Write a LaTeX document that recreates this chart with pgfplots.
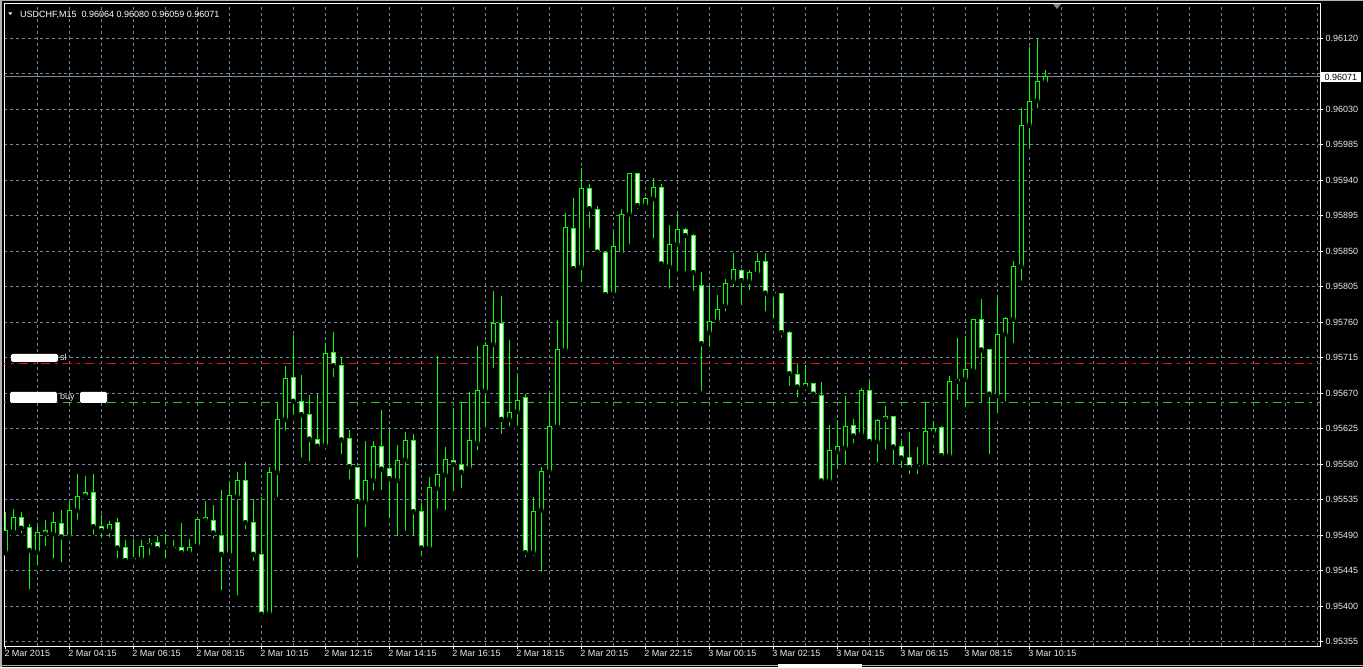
\documentclass[border=0pt]{standalone}
\usepackage{pgfplots}
\pgfplotsset{compat=1.18}
\usepackage{pgfplotstable}
\usepackage{fontspec}
\setmainfont{Liberation Sans}
\definecolor{cgreen}{RGB}{0,255,0}
\definecolor{gridc}{RGB}{119,136,153}
\definecolor{slred}{RGB}{230,20,20}
\definecolor{buygreen}{RGB}{50,190,50}
\definecolor{lblc}{RGB}{235,235,235}

\pgfplotstableread{
i O H L C
0 0.95469 0.95519 0.95467 0.95496
1 0.95495 0.95523 0.95490 0.95512
4 0.95469 0.95502 0.95449 0.95494
6 0.95492 0.95519 0.95458 0.95506
8 0.95488 0.95532 0.95487 0.95522
9 0.95522 0.95568 0.95507 0.95539
13 0.95496 0.95508 0.95485 0.95504
17 0.95460 0.95484 0.95458 0.95476
18 0.95477 0.95487 0.95462 0.95480
20 0.95475 0.95492 0.95458 0.95476
21 0.95473 0.95484 0.95468 0.95474
23 0.95468 0.95485 0.95464 0.95475
24 0.95477 0.95511 0.95473 0.95510
28 0.95466 0.95558 0.95466 0.95540
29 0.95539 0.95570 0.95411 0.95559
33 0.95391 0.95577 0.95386 0.95570
34 0.95570 0.95659 0.95536 0.95637
35 0.95637 0.95704 0.95620 0.95689
40 0.95604 0.95734 0.95596 0.95721
45 0.95532 0.95610 0.95498 0.95560
46 0.95560 0.95610 0.95544 0.95602
49 0.95560 0.95604 0.95486 0.95585
50 0.95586 0.95621 0.95493 0.95610
53 0.95474 0.95564 0.95472 0.95550
54 0.95550 0.95717 0.95521 0.95567
55 0.95567 0.95602 0.95519 0.95586
58 0.95575 0.95672 0.95572 0.95610
59 0.95607 0.95730 0.95595 0.95673
60 0.95673 0.95735 0.95624 0.95730
61 0.95732 0.95800 0.95699 0.95758
63 0.95637 0.95738 0.95626 0.95646
64 0.95647 0.95692 0.95626 0.95661
66 0.95468 0.95538 0.95461 0.95520
67 0.95522 0.95577 0.95441 0.95571
68 0.95571 0.95669 0.95569 0.95628
69 0.95628 0.95763 0.95628 0.95725
70 0.95725 0.95898 0.95724 0.95880
72 0.95830 0.95956 0.95808 0.95929
76 0.95796 0.95874 0.95796 0.95856
77 0.95847 0.95903 0.95847 0.95897
78 0.95897 0.95949 0.95856 0.95949
80 0.95908 0.95919 0.95905 0.95917
81 0.95917 0.95943 0.95864 0.95931
83 0.95831 0.95883 0.95800 0.95859
84 0.95859 0.95897 0.95822 0.95878
88 0.95747 0.95807 0.95726 0.95761
89 0.95761 0.95795 0.95761 0.95776
90 0.95781 0.95815 0.95771 0.95809
91 0.95812 0.95848 0.95802 0.95827
93 0.95812 0.95826 0.95798 0.95823
94 0.95822 0.95848 0.95821 0.95837
100 0.95678 0.95706 0.95670 0.95683
103 0.95559 0.95630 0.95556 0.95597
104 0.95596 0.95636 0.95571 0.95602
105 0.95601 0.95666 0.95577 0.95628
107 0.95618 0.95677 0.95615 0.95673
109 0.95609 0.95637 0.95580 0.95636
110 0.95637 0.95654 0.95596 0.95641
114 0.95577 0.95602 0.95565 0.95578
115 0.95578 0.95659 0.95578 0.95621
116 0.95620 0.95635 0.95611 0.95626
118 0.95591 0.95692 0.95585 0.95685
119 0.95685 0.95740 0.95659 0.95688
120 0.95688 0.95743 0.95650 0.95700
121 0.95699 0.95764 0.95699 0.95763
124 0.95667 0.95792 0.95642 0.95744
125 0.95745 0.95767 0.95657 0.95765
126 0.95764 0.95838 0.95731 0.95831
127 0.95831 0.96031 0.95810 0.96010
128 0.96010 0.96109 0.95977 0.96040
129 0.96041 0.96119 0.96029 0.96065
130 0.96064 0.96080 0.96059 0.96071
}\bull

\pgfplotstableread{
i O H L C
2 0.95512 0.95520 0.95490 0.95499
3 0.95500 0.95504 0.95419 0.95471
5 0.95496 0.95510 0.95474 0.95492
7 0.95505 0.95522 0.95453 0.95488
10 0.95544 0.95565 0.95537 0.95540
11 0.95544 0.95568 0.95488 0.95501
12 0.95501 0.95516 0.95484 0.95496
14 0.95506 0.95512 0.95458 0.95474
15 0.95474 0.95484 0.95458 0.95458
16 0.95460 0.95485 0.95458 0.95459
19 0.95481 0.95489 0.95473 0.95473
22 0.95474 0.95506 0.95464 0.95468
25 0.95512 0.95533 0.95507 0.95509
26 0.95509 0.95528 0.95483 0.95493
27 0.95490 0.95547 0.95418 0.95466
30 0.95559 0.95583 0.95495 0.95506
31 0.95506 0.95536 0.95455 0.95466
32 0.95466 0.95539 0.95383 0.95390
36 0.95690 0.95744 0.95640 0.95660
37 0.95660 0.95693 0.95586 0.95643
38 0.95643 0.95668 0.95581 0.95612
39 0.95612 0.95669 0.95600 0.95603
41 0.95722 0.95748 0.95688 0.95705
42 0.95705 0.95716 0.95590 0.95611
43 0.95613 0.95624 0.95558 0.95577
44 0.95576 0.95577 0.95459 0.95533
47 0.95602 0.95649 0.95545 0.95574
48 0.95575 0.95624 0.95509 0.95562
51 0.95610 0.95618 0.95486 0.95520
52 0.95520 0.95531 0.95461 0.95474
56 0.95585 0.95652 0.95543 0.95580
57 0.95580 0.95659 0.95547 0.95570
62 0.95758 0.95793 0.95616 0.95637
65 0.95665 0.95669 0.95460 0.95468
71 0.95879 0.95918 0.95823 0.95828
73 0.95929 0.95935 0.95877 0.95904
74 0.95903 0.95907 0.95849 0.95849
75 0.95849 0.95851 0.95795 0.95795
79 0.95949 0.95949 0.95901 0.95908
82 0.95931 0.95935 0.95827 0.95834
85 0.95877 0.95880 0.95822 0.95870
86 0.95870 0.95872 0.95797 0.95823
87 0.95807 0.95824 0.95670 0.95733
92 0.95826 0.95827 0.95779 0.95813
95 0.95837 0.95848 0.95771 0.95797
96 0.95798 0.95799 0.95762 0.95796
97 0.95796 0.95797 0.95738 0.95747
98 0.95747 0.95749 0.95677 0.95695
99 0.95694 0.95707 0.95662 0.95678
101 0.95683 0.95683 0.95662 0.95669
102 0.95667 0.95684 0.95556 0.95559
106 0.95629 0.95637 0.95604 0.95616
108 0.95673 0.95685 0.95603 0.95609
111 0.95640 0.95640 0.95577 0.95602
112 0.95602 0.95609 0.95573 0.95588
113 0.95589 0.95621 0.95565 0.95576
117 0.95627 0.95629 0.95585 0.95591
122 0.95764 0.95790 0.95655 0.95725
123 0.95726 0.95726 0.95590 0.95669
}\bear

\pgfplotsset{
  bar/.style 2 args={only marks, mark=none, forget plot,
    error bars/.cd, y dir=plus, y explicit, error mark=none,
    error bar style={draw=#1, line width=#2, line cap=butt}},
}

\begin{document}
\begin{tikzpicture}
\fill[black] (0pt,0pt) rectangle (1363pt,667pt);
\fill[gray!60] (0pt,0pt) rectangle (2pt,667pt);
\fill[gray!60] (0pt,666pt) rectangle (1363pt,667pt);
\fill[gray!60] (0pt,1pt) rectangle (1363pt,2pt);
\fill[white] (778pt,0pt) rectangle (862pt,3pt);
\begin{axis}[
  at={(4pt,21pt)}, anchor=south west,
  scale only axis, width=1316.5pt, height=642.5pt,
  xmin=-0.1625, xmax=164.4, ymin=0.953497, ymax=0.961641,
  scaled ticks=false,
  axis line style={draw=white, line width=1pt},
  tick align=outside,
  xtick pos=bottom, ytick pos=right, yticklabel pos=right,
  major tick length=3pt, minor tick length=0pt,
  tick style={draw=white, line width=1pt},
  xtick={0,8,...,128},
  xticklabels={2 Mar 2015, 2 Mar 04:15, 2 Mar 06:15, 2 Mar 08:15, 2 Mar 10:15, 2 Mar 12:15, 2 Mar 14:15, 2 Mar 16:15, 2 Mar 18:15, 2 Mar 20:15, 2 Mar 22:15, 3 Mar 00:15, 3 Mar 02:15, 3 Mar 04:15, 3 Mar 06:15, 3 Mar 08:15, 3 Mar 10:15},
  xticklabel style={anchor=north west, inner sep=0pt, xshift=-1pt, yshift=-1pt},
  ytick={0.95355,0.95400,0.95445,0.95490,0.95535,0.95580,0.95625,0.95670,0.95715,0.95760,0.95805,0.95850,0.95895,0.95940,0.95985,0.96030,0.96120},
  yticklabels={0.95355,0.95400,0.95445,0.95490,0.95535,0.95580,0.95625,0.95670,0.95715,0.95760,0.95805,0.95850,0.95895,0.95940,0.95985,0.96030,0.96120},
  yticklabel style={anchor=west, inner sep=0pt, xshift=2pt},
  tick label style={font=\fontsize{9}{10}\selectfont, text=lblc},
  minor xtick={4,8,...,164},
  minor ytick={0.95355,0.95400,0.95445,0.95490,0.95535,0.95580,0.95625,0.95670,0.95715,0.95760,0.95805,0.95850,0.95895,0.95940,0.95985,0.96030,0.96075,0.96120},
  xminorgrids=true, yminorgrids=true,
  xmajorgrids=false, ymajorgrids=false,
  minor grid style={draw=gridc, line width=0.8pt, dash pattern=on 3pt off 3pt},
  extra y ticks={0.96071},
  extra y tick labels={0.96071},
  extra y tick style={major tick length=0pt, yticklabel style={fill=white, text=black, inner xsep=4pt, inner ysep=2pt, xshift=-2pt}},
]
% horizontal chart lines
\addplot[gridc, line width=0.9pt, forget plot] coordinates {(-1,0.96071) (166,0.96071)};
\addplot[slred, line width=0.8pt, forget plot, dash pattern=on 9pt off 5pt on 3pt off 5pt] coordinates {(-1,0.95708) (166,0.95708)};
\addplot[buygreen, line width=0.8pt, forget plot, dash pattern=on 9pt off 5pt on 3pt off 5pt] coordinates {(-1,0.95658) (166,0.95658)};
% wicks (low to high)
\addplot[bar={cgreen}{1pt}] table[x=i, y=L, y error expr={\thisrow{H}-\thisrow{L}}] {\bull};
\addplot[bar={cgreen}{1pt}] table[x=i, y=L, y error expr={\thisrow{H}-\thisrow{L}}] {\bear};
% body outlines
\addplot[bar={cgreen}{5pt}] table[x=i, y expr={min(\thisrow{O},\thisrow{C})-0.0000063}, y error expr={abs(\thisrow{O}-\thisrow{C})+0.0000126}] {\bull};
\addplot[bar={cgreen}{5pt}] table[x=i, y expr={min(\thisrow{O},\thisrow{C})-0.0000063}, y error expr={abs(\thisrow{O}-\thisrow{C})+0.0000126}] {\bear};
% body fills
\addplot[bar={black}{3pt}] table[x=i, y expr={min(\thisrow{O},\thisrow{C})+0.0000063}, y error expr={max(abs(\thisrow{O}-\thisrow{C})-0.0000126,0)}] {\bull};
\addplot[bar={white}{3pt}] table[x=i, y expr={min(\thisrow{O},\thisrow{C})+0.0000063}, y error expr={max(abs(\thisrow{O}-\thisrow{C})-0.0000126,0)}] {\bear};
\end{axis}
% header
\fill[white] (8.3pt,654.7pt) -- (12.3pt,654.7pt) -- (10.3pt,652pt) -- cycle;
\node[anchor=base west, inner sep=0pt, text=white, font=\fontsize{9}{10}\selectfont] at (20pt,649.7pt) {USDCHF,M15\ \ 0.96064 0.96080 0.96059 0.96071};
\fill[gridc] (1053pt,663pt) -- (1061pt,663pt) -- (1057pt,658pt) -- cycle;
% line labels
\fill[white, rounded corners=1.5pt] (11pt,305pt) rectangle (58pt,313pt);
\node[anchor=base west, inner sep=0pt, text=lblc, font=\fontsize{9}{10}\selectfont] at (60pt,306.3pt) {sl};
\fill[white, rounded corners=1.5pt] (10pt,264pt) rectangle (57pt,275pt);
\fill[white, rounded corners=1.5pt] (80pt,264pt) rectangle (107pt,275pt);
\node[anchor=base west, inner sep=0pt, text=lblc, font=\fontsize{9}{10}\selectfont] at (60pt,267pt) {buy};
\pgfresetboundingbox
\path[use as bounding box] (0pt,0pt) rectangle (1363pt,667pt);
\end{tikzpicture}
\end{document}
